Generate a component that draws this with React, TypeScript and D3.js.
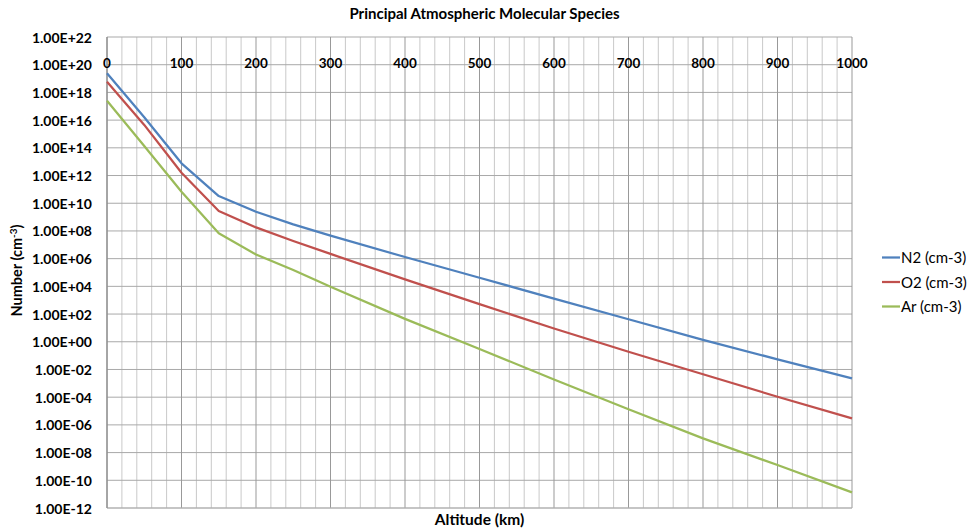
import React from 'react'
import * as d3 from 'd3'

// altitude in km
const altitudes = [0, 50, 100, 150, 200, 250, 300, 400, 500, 600, 700, 800, 900, 1000]

// number densities (cm-3)
const n2 = [2.4e19, 1.6e16, 7.6e12, 3.3e10, 2.45e9, 3.0e8, 4.6e7, 1.32e6, 4.2e4, 1.3e3, 42, 1.38, 5.4e-2, 2.3e-3]
const o2 = [5.9e18, 4.5e15, 1.6e12, 2.75e9, 1.8e8, 1.9e7, 2.2e6, 3.2e4, 5.2e2, 9.1, 0.19, 4.5e-3, 1.07e-4, 2.95e-6]
const ar = [2.5e17, 1.35e14, 6.8e10, 6.8e7, 2.0e6, 1.5e5, 9.5e3, 45, 0.3, 1.9e-3, 1.35e-5, 1.07e-7, 1.26e-9, 1.35e-11]

const seriesNames = ['N2 (cm-3)', 'O2 (cm-3)', 'Ar (cm-3)']
const seriesColors = ['#4F81BD', '#C0504D', '#9BBB59']

const xTicks = [0, 100, 200, 300, 400, 500, 600, 700, 800, 900, 1000]
const yTickExps = [22, 20, 18, 16, 14, 12, 10, 8, 6, 4, 2, 0, -2, -4, -6, -8, -10, -12]

const font = 'Lato, "Open Sans", sans-serif'

const fmtExp = (e: number) => `1.00E${e < 0 ? '-' : '+'}${String(Math.abs(e)).padStart(2, '0')}`

const App = () => {
    const width = 968
    const height = 530
    const left = 107
    const right = 852
    const top = 37
    const bottom = 508

    const x = d3.scaleLinear().domain([0, 1000]).range([left, right])
    const y = d3.scaleLog().domain([1e-12, 1e22]).range([bottom, top])

    const series = [n2, o2, ar]
    const line = d3
        .line<[number, number]>()
        .x(d => x(d[0]))
        .y(d => y(d[1]))

    const minorX = d3.range(0, 1001, 20).filter(v => v % 100 !== 0)

    return (
        <svg
            width={width}
            height={height}
            style={{ position: 'absolute', left: 0, top: 0, background: '#fff' }}
        >
            {/* minor vertical gridlines */}
            {minorX.map(v => (
                <line key={`mx${v}`} x1={x(v)} x2={x(v)} y1={top} y2={bottom} stroke="#c9c9c9" strokeWidth={1} />
            ))}
            {/* horizontal gridlines */}
            {yTickExps.map(e => (
                <line key={`gy${e}`} x1={left} x2={right} y1={y(Math.pow(10, e))} y2={y(Math.pow(10, e))} stroke="#a9a9a9" strokeWidth={1} />
            ))}
            {/* major vertical gridlines */}
            {xTicks.map(v => (
                <line key={`gx${v}`} x1={x(v)} x2={x(v)} y1={top} y2={bottom} stroke="#999" strokeWidth={1} />
            ))}
            <line x1={left} x2={right} y1={bottom} y2={bottom} stroke="#b5b5b5" strokeWidth={1.2} />
            <line x1={left} x2={left} y1={top} y2={bottom} stroke="#8c8c8c" strokeWidth={1.2} />

            {/* x tick labels sit on the 1E+20 line */}
            {xTicks.map(v => (
                <text key={`xt${v}`} x={x(v)} y={y(1e20) + 3} textAnchor="middle"
                      fontFamily={font} fontWeight="bold" fontSize={13.5} fill="#000">
                    {v}
                </text>
            ))}
            {yTickExps.map(e => (
                <text key={`yt${e}`} x={92} y={y(Math.pow(10, e)) + 5.5} textAnchor="end"
                      fontFamily={font} fontWeight="bold" fontSize={14} fill="#000">
                    {fmtExp(e)}
                </text>
            ))}

            {series.map((s, i) => (
                <path key={`s${i}`}
                      d={line(altitudes.map((a, j) => [a, s[j]] as [number, number])) || ''}
                      fill="none" stroke={seriesColors[i]} strokeWidth={2.25} strokeLinejoin="round" />
            ))}

            <text x={484.5} y={19} textAnchor="middle" fontFamily={font} fontWeight="bold" fontSize={15}>
                Principal Atmospheric Molecular Species
            </text>
            <text x={479.5} y={525} textAnchor="middle" fontFamily={font} fontWeight="bold" fontSize={15.5}>
                Altitude (km)
            </text>
            <text transform="translate(22,270.5) rotate(-90)" textAnchor="middle"
                  fontFamily={font} fontWeight="bold" fontSize={14.5}>
                Number (cm<tspan dy={-5} fontSize={10}>-3</tspan><tspan dy={5}>)</tspan>
            </text>

            {seriesNames.map((n, i) => (
                <g key={`lg${i}`} transform={`translate(882,${257.5 + i * 24.5})`}>
                    <line x1={0} x2={18} y1={0} y2={0} stroke={seriesColors[i]} strokeWidth={2.25} />
                    <text x={19} y={5.5} fontFamily={font} fontSize={15} fill="#000">{n}</text>
                </g>
            ))}
        </svg>
    )
}

export default App
